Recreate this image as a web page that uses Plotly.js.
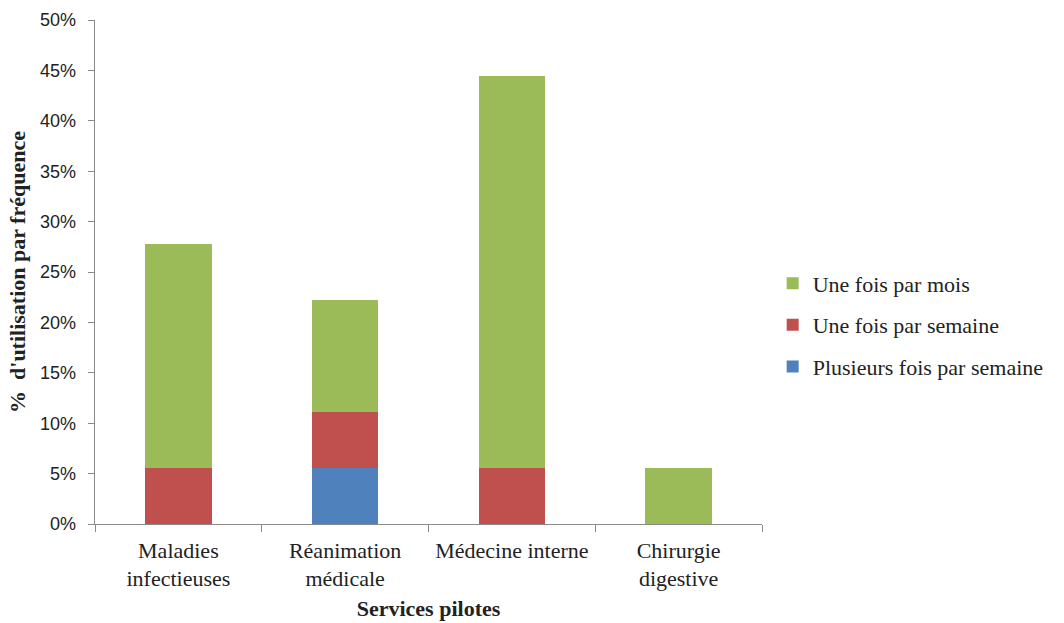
<!DOCTYPE html>
<html>
<head>
<meta charset="utf-8">
<script src="https://cdn.plot.ly/plotly-3.0.1.min.js"></script>
<style>html,body{margin:0;padding:0;background:#fff;}#chart{width:1064px;height:623px;}</style>
</head>
<body>
<div id="chart"></div>
<script>
var categories = ["Maladies<br>infectieuses", "Réanimation<br>médicale", "Médecine interne", "Chirurgie<br>digestive"];
var plusieursParSemaine = [0, 5.56, 0, 0];
var uneFoisParSemaine = [5.56, 5.56, 5.56, 0];
var uneFoisParMois = [22.22, 11.11, 38.89, 5.56];
var yTickValues = [0, 5, 10, 15, 20, 25, 30, 35, 40, 45, 50];
var yTickLabels = ["0%", "5%", "10%", "15%", "20%", "25%", "30%", "35%", "40%", "45%", "50%"];

var serif = "'Liberation Serif', 'Times New Roman', 'DejaVu Serif', serif";
var sans = "'Liberation Sans', Arial, sans-serif";

var traces = [
  {name: "Plusieurs fois par semaine", y: plusieursParSemaine, color: "#4F81BD", rank: 3},
  {name: "Une fois par semaine", y: uneFoisParSemaine, color: "#C0504D", rank: 2},
  {name: "Une fois par mois", y: uneFoisParMois, color: "#9BBB59", rank: 1}
].map(function (s, i) {
  return {
    type: "bar",
    name: s.name,
    x: categories,
    y: s.y,
    legendgroup: "g" + i,
    legendrank: s.rank,
    marker: {color: s.color, line: {width: 0}},
    width: 0.4,
    hoverinfo: "none"
  };
});

var layout = {
  width: 1064,
  height: 623,
  margin: {l: 95, r: 302, t: 20, b: 99},
  barmode: "stack",
  paper_bgcolor: "#fff",
  plot_bgcolor: "#fff",
  showlegend: true,
  legend: {
    x: 1.016, xanchor: "left",
    y: 0.395, yanchor: "middle",
    traceorder: "grouped",
    tracegroupgap: 10,
    font: {family: serif, size: 22, color: "#222"},
    itemwidth: 30
  },
  xaxis: {
    type: "category",
    showline: true,
    linecolor: "#8a8a8a",
    linewidth: 1.3,
    ticks: "outside",
    tickson: "boundaries",
    ticklen: 7,
    tickcolor: "#8a8a8a",
    ticklabelstandoff: 6,
    showgrid: false,
    zeroline: false,
    tickfont: {family: serif, size: 22, color: "#222"},
    title: {text: "<b>Services pilotes</b>", font: {family: serif, size: 22, color: "#222"}, standoff: 10},
    fixedrange: true
  },
  yaxis: {
    range: [0, 50],
    tickvals: yTickValues,
    ticktext: yTickLabels,
    showline: true,
    linecolor: "#8a8a8a",
    linewidth: 1.3,
    ticks: "outside",
    ticklen: 6,
    tickcolor: "#8a8a8a",
    ticklabelstandoff: 8,
    showgrid: false,
    zeroline: false,
    tickfont: {family: sans, size: 18, color: "#222"},
    title: {text: "<b>%  d'utilisation par fréquence</b>", font: {family: serif, size: 22, color: "#222"}, standoff: 8},
    fixedrange: true
  }
};

Plotly.newPlot("chart", traces, layout, {staticPlot: true, displayModeBar: false});
</script>
</body>
</html>
